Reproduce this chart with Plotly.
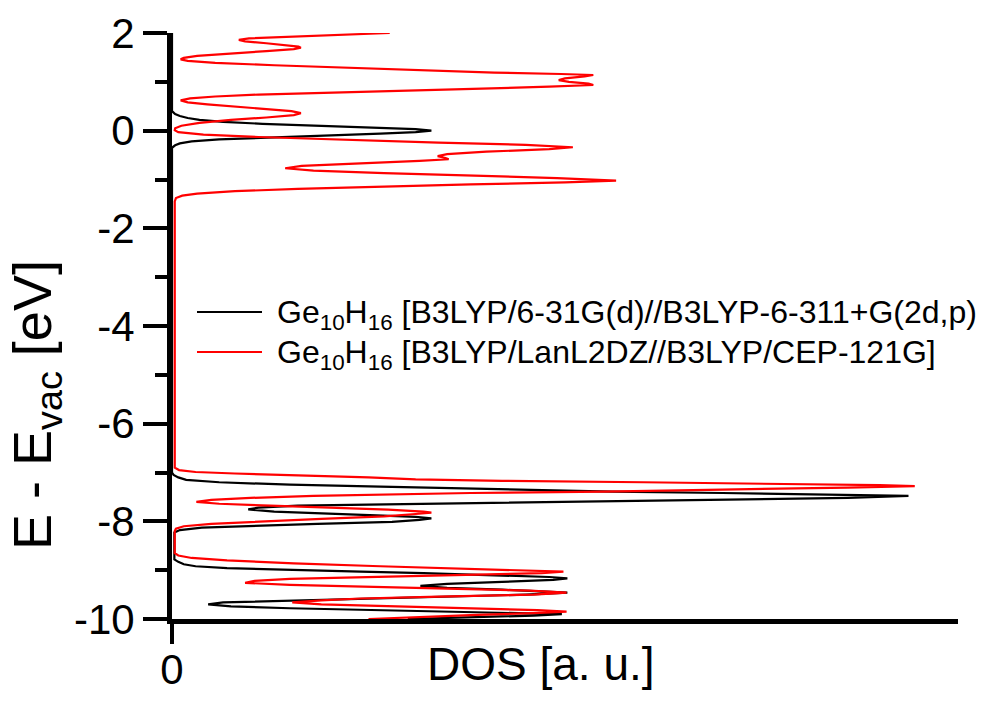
import plotly.graph_objects as go

# ---------------- data ----------------
# Energy E - E_vac [eV] and DOS [a.u., axis spans 0..100]
black_E = [2.00, 0.40, 0.34, 0.30, 0.26, 0.22, 0.18, 0.14, 0.10, 0.06, 0.03, 0.00,
           -0.03, -0.06, -0.10, -0.14, -0.18, -0.22, -0.26, -0.30, -0.35, -7.00,
           -7.05, -7.10, -7.15, -7.20, -7.25, -7.29, -7.33, -7.36, -7.39, -7.42, -7.45, -7.48,
           -7.52, -7.56, -7.60, -7.64, -7.68, -7.72, -7.755, -7.80, -7.84, -7.88, -7.91, -7.94,
           -7.97, -8.01, -8.05, -8.09, -8.13, -8.18, -8.23, -8.78,
           -8.83, -8.88, -8.92, -8.96, -9.00, -9.03, -9.06, -9.10, -9.14, -9.17,
           -9.20, -9.24, -9.28, -9.32, -9.36, -9.40, -9.43, -9.46,
           -9.50, -9.54, -9.58, -9.62, -9.66, -9.70, -9.74, -9.78, -9.82, -9.86, -9.90,
           -9.93, -9.97, -10.00]
black_dos = [0.0, 0.0, 0.4, 1.0, 2.0, 3.5, 6.5, 11.5, 19.0, 26.5, 31.0, 33.0,
             31.0, 26.5, 19.0, 11.5, 6.0, 2.5, 1.0, 0.4, 0.0, 0.0,
             0.2, 0.8, 1.8, 6.0, 15.0, 26.5, 37.0, 46.0, 56.0, 70.0, 85.0, 93.7,
             86.0, 68.5, 46.0, 27.5, 16.0, 11.0, 9.7, 13.0, 18.5, 26.0, 31.0, 33.0,
             31.5, 28.0, 18.5, 9.5, 3.8, 1.0, 0.3, 0.3,
             0.8, 1.5, 3.0, 7.0, 15.0, 24.0, 32.0, 41.0, 48.0, 50.3,
             48.5, 42.0, 35.0, 31.6, 35.0, 42.0, 47.5, 50.3,
             45.0, 35.0, 23.0, 13.0, 6.5, 4.6, 7.5, 15.0, 27.0, 40.0, 49.6,
             46.0, 37.0, 30.0]

red_E = [2.00, 1.96, 1.92, 1.89, 1.86, 1.83, 1.79, 1.75, 1.72, 1.70, 1.67, 1.63, 1.58,
         1.53, 1.49, 1.46, 1.43, 1.39, 1.34, 1.29, 1.257, 1.22, 1.19, 1.16, 1.14, 1.11,
         1.07, 1.035, 1.00, 0.965, 0.935, 0.90, 0.86, 0.82, 0.78, 0.74, 0.70, 0.66, 0.62,
         0.58, 0.54, 0.49, 0.44, 0.40, 0.36, 0.32, 0.27, 0.22, 0.16, 0.10, 0.05, 0.01,
         -0.03, -0.08, -0.13, -0.19, -0.246, -0.29, -0.34, -0.38, -0.43, -0.48, -0.52,
         -0.56, -0.585, -0.62, -0.67, -0.72, -0.77, -0.82, -0.87, -0.92, -0.97, -1.025,
         -1.06, -1.10, -1.148, -1.19, -1.24, -1.29, -1.33, -1.38, -1.45, -6.90,
         -6.95, -6.99, -7.02, -7.05, -7.10, -7.14, -7.17, -7.20, -7.23, -7.26, -7.28,
         -7.31, -7.35, -7.39, -7.42, -7.45, -7.48, -7.52, -7.56, -7.60, -7.64, -7.68,
         -7.72, -7.76, -7.80, -7.82, -7.85, -7.90, -7.95, -8.00, -8.05, -8.10, -8.15,
         -8.20, -8.65, -8.70, -8.75, -8.80, -8.86, -8.92, -8.96, -9.00, -9.03, -9.06,
         -9.10, -9.14, -9.18, -9.22, -9.26, -9.30, -9.34, -9.38, -9.42, -9.46, -9.50,
         -9.54, -9.58, -9.62, -9.66, -9.70, -9.74, -9.78, -9.82, -9.85, -9.88, -9.92,
         -9.96, -10.00]
red_dos = [27.7, 20.5, 13.5, 9.8, 8.5, 9.3, 12.0, 14.8, 16.1, 16.4, 15.5, 12.0, 7.0,
           3.2, 1.5, 1.1, 2.0, 5.5, 13.0, 22.0, 26.5, 33.5, 41.0, 49.5, 53.6, 52.5,
           50.0, 49.2, 50.5, 53.0, 53.6, 48.0, 38.0, 28.0, 18.5, 11.0, 5.5, 2.3, 1.1,
           2.0, 4.5, 8.5, 12.5, 15.2, 16.4, 15.5, 12.0, 7.5, 3.5, 1.2, 0.4, 0.35,
           0.8, 4.0, 11.0, 22.0, 33.9, 45.0, 51.0, 48.0, 40.0, 35.0, 33.8,
           34.8, 35.2, 31.5, 23.0, 16.5, 14.4, 18.0, 27.0, 38.5, 49.0, 56.5,
           50.0, 38.0, 26.5, 16.0, 8.0, 3.2, 1.3, 0.5, 0.35, 0.35,
           0.9, 3.0, 8.0, 15.0, 25.0, 31.0, 42.0, 60.0, 76.0, 90.0, 94.5,
           86.0, 70.0, 55.0, 38.0, 26.5, 18.0, 10.0, 5.0, 3.1, 6.0, 12.5,
           20.5, 27.5, 32.0, 33.0, 31.0, 27.0, 19.0, 11.0, 5.0, 1.5, 0.5,
           0.35, 0.35, 0.8, 2.5, 7.0, 15.5, 26.5, 36.0, 45.0, 49.8, 47.0,
           36.0, 24.0, 15.0, 10.5, 9.3, 15.0, 25.0, 36.0, 45.5, 50.2, 46.0,
           34.0, 24.0, 19.0, 15.3, 19.0, 28.0, 38.0, 46.5, 50.2, 46.0, 38.0,
           31.0, 25.0]

series_names = ["Ge<sub>10</sub>H<sub>16</sub> [B3LYP/6-31G(d)//B3LYP-6-311+G(2d,p)",
                "Ge<sub>10</sub>H<sub>16</sub> [B3LYP/LanL2DZ//B3LYP/CEP-121G]"]
series_colors = ["#000000", "#FF0000"]
y_ticks = [-10, -8, -6, -4, -2, 0, 2]
x_ticks = [0]

FONT = "Liberation Sans, Arial, sans-serif"

# ---------------- figure ----------------
fig = go.Figure()
fig.add_trace(go.Scatter(x=black_dos, y=black_E, mode="lines", name=series_names[0],
                         line=dict(color=series_colors[0], width=2.2), showlegend=False))
fig.add_trace(go.Scatter(x=red_dos, y=red_E, mode="lines", name=series_names[1],
                         line=dict(color=series_colors[1], width=2.2), showlegend=False))

W, H = 983, 707
L, R, T, B = 172, 25, 33, 88
pw, ph = W - L - R, H - T - B


def px(xp):
    return (xp - L) / pw


def py(yp):
    return (H - B - yp) / ph


# manual legend (line samples + text)
legend_rows = [312, 352]
annotations = []
shapes = []
for name, col, yrow in zip(series_names, series_colors, legend_rows):
    shapes.append(dict(type="line", xref="paper", yref="paper",
                       x0=px(197), x1=px(262), y0=py(yrow), y1=py(yrow),
                       line=dict(color=col, width=2.2)))
    annotations.append(dict(text=name, xref="paper", yref="paper",
                            x=px(275), y=py(yrow + 2), xanchor="left", yanchor="middle",
                            showarrow=False, font=dict(family=FONT, size=32, color="black")))

# axis titles
annotations.append(dict(text="DOS [a. u.]", xref="paper", yref="paper",
                        x=px(541), y=py(664), xanchor="center", yanchor="middle",
                        showarrow=False, font=dict(family=FONT, size=46, color="black")))
annotations.append(dict(text="E - E<sub>vac</sub> [eV]", xref="paper", yref="paper",
                        x=px(36), y=py(405), xanchor="center", yanchor="middle",
                        textangle=-90, showarrow=False,
                        font=dict(family=FONT, size=54, color="black")))

fig.update_layout(
    width=W, height=H,
    margin=dict(l=L, r=R, t=T, b=B, autoexpand=False),
    paper_bgcolor="white", plot_bgcolor="white",
    font=dict(family=FONT, color="black"),
    shapes=shapes, annotations=annotations,
)
fig.update_xaxes(range=[0, 100], showline=True, linewidth=5, linecolor="black",
                 ticks="outside", ticklen=20, tickwidth=4, tickcolor="black",
                 tickvals=x_ticks, ticktext=[str(v) for v in x_ticks],
                 ticklabelstandoff=-10,
                 tickfont=dict(family=FONT, size=42, color="black"),
                 showgrid=False, zeroline=False, automargin=False)
fig.update_yaxes(range=[-10, 2], showline=True, linewidth=5, linecolor="black",
                 ticks="outside", ticklen=24, tickwidth=4, tickcolor="black",
                 tickvals=y_ticks, ticktext=[str(v) for v in y_ticks],
                 minor=dict(dtick=1, tick0=0, ticks="outside", ticklen=12, tickwidth=4,
                            tickcolor="black", showgrid=False),
                 tickfont=dict(family=FONT, size=42, color="black"),
                 showgrid=False, zeroline=False, automargin=False)

fig.write_html("out.html")
